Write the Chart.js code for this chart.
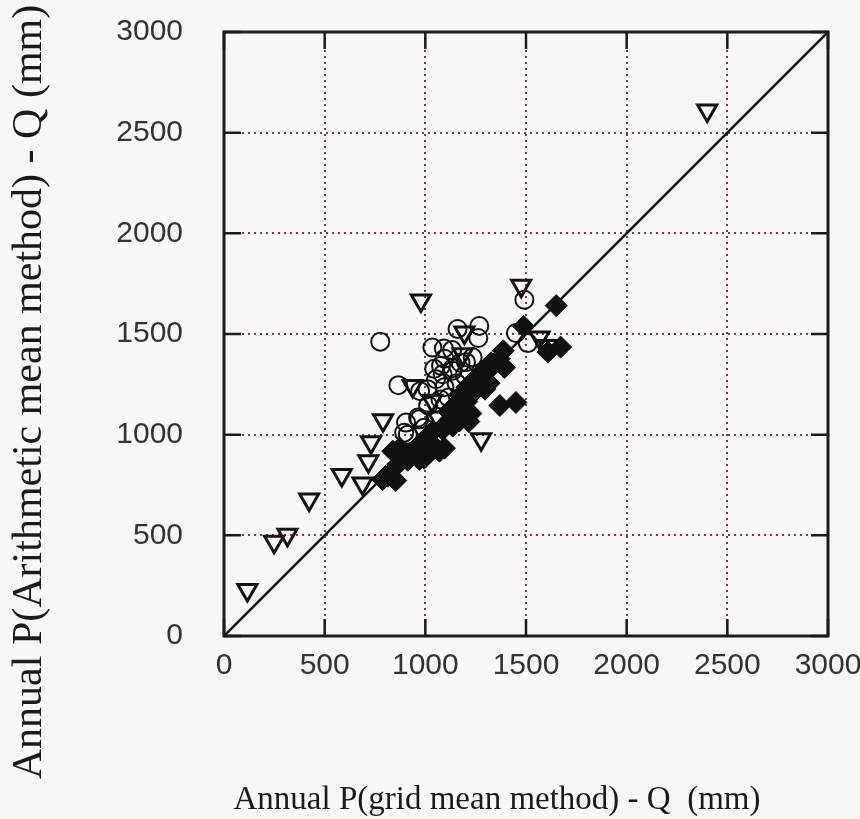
<!DOCTYPE html>
<html>
<head>
<meta charset="utf-8">
<script src="https://cdn.jsdelivr.net/npm/chart.js@4/dist/chart.umd.min.js"></script>
<style>
  html, body { margin: 0; padding: 0; background: #f7f7f6; }
  #wrap { width: 860px; height: 819px; }
</style>
</head>
<body>
<div id="wrap"><canvas id="chart" width="860" height="819"></canvas></div>
<script>
// axis ticks
const tickValues = [0, 500, 1000, 1500, 2000, 2500, 3000];
const xTitle = 'Annual P(grid mean method) - Q  (mm)';
const yTitle = 'Annual P(Arithmetic mean method) - Q (mm)';

// open triangles
const triX = [2400, 978, 1476, 1194, 1186, 1567, 1609, 937, 1033, 1061, 1277, 790, 730, 717, 688, 585, 423, 315, 249, 116];
const triY = [2610, 1666, 1740, 1508, 1400, 1483, 1441, 1242, 1168, 1085, 977, 1072, 962, 868, 757, 800, 678, 503, 468, 229];

// open circles
const circX = [776, 1492, 1160, 1268, 1263, 1450, 1509, 1035, 1092, 1133, 1235, 866, 1078, 1086, 1136, 1202, 1053, 1011, 970, 904, 895, 913, 994, 1014, 964, 1095, 974, 1175, 1095, 1196, 1155, 1115, 1075, 1044, 1135];
const circY = [1462, 1670, 1525, 1540, 1480, 1505, 1455, 1433, 1428, 1420, 1384, 1246, 1342, 1300, 1330, 1360, 1275, 1226, 1076, 1060, 1010, 1000, 1034, 1145, 1085, 1236, 1216, 1357, 1377, 1296, 1256, 1185, 1175, 1327, 1317];

// filled diamonds
const diaX = [1650, 1488, 1672, 1609, 1387, 1367, 1327, 1296, 1266, 1236, 1206, 1370, 1450, 1393, 1318, 1285, 1269, 1175, 1216, 1135, 1095, 1034, 994, 954, 994, 1095, 1034, 873, 863, 833, 802, 853, 913, 944, 1115, 1175, 1135, 1206, 1226, 1296, 1256, 1317, 838, 871, 812, 788, 970, 1020, 1070, 1003, 1086, 1136, 1169, 987];
const diaY = [1641, 1538, 1435, 1410, 1417, 1377, 1357, 1327, 1296, 1266, 1236, 1145, 1160, 1334, 1325, 1292, 1242, 1115, 1065, 1075, 1034, 1014, 974, 933, 883, 933, 954, 933, 853, 792, 792, 772, 873, 913, 1115, 1196, 1135, 1165, 1105, 1226, 1226, 1256, 918, 860, 794, 777, 877, 910, 918, 977, 1026, 1043, 1068, 935];

// 1:1 line
const lineX = [0, 3000];
const lineY = [0, 3000];

const pts = (xs, ys) => xs.map((x, i) => ({ x: x, y: ys[i] }));

// frame + short solid ticks inside the frame + axis titles
const framePlugin = {
  id: 'frame',
  afterDraw(chart) {
    const { ctx, chartArea: a, scales } = chart;
    const len = 17;
    ctx.save();
    ctx.strokeStyle = '#1a1a1a';
    ctx.lineWidth = 2.5;
    ctx.beginPath();
    tickValues.forEach(v => {
      const px = scales.x.getPixelForValue(v);
      const py = scales.y.getPixelForValue(v);
      ctx.moveTo(px, a.bottom); ctx.lineTo(px, a.bottom - len);
      ctx.moveTo(px, a.top); ctx.lineTo(px, a.top + len);
      ctx.moveTo(a.left, py); ctx.lineTo(a.left + len, py);
      ctx.moveTo(a.right, py); ctx.lineTo(a.right - len, py);
    });
    ctx.stroke();
    ctx.lineWidth = 3;
    ctx.strokeRect(a.left, a.top, a.right - a.left, a.bottom - a.top);

    ctx.fillStyle = '#1a1a1a';
    ctx.textAlign = 'center';
    ctx.textBaseline = 'middle';
    ctx.font = '33px "Liberation Serif", serif';
    ctx.fillText(xTitle, 497, 800);
    ctx.translate(30, 392);
    ctx.rotate(-Math.PI / 2);
    ctx.font = '42px "Liberation Serif", serif';
    ctx.fillText(yTitle, 0, 0);
    ctx.restore();
  }
};

const gridOpts = {
  color: 'rgba(95, 40, 80, 0.9)',
  lineWidth: 2,
  drawTicks: false
};

const fitX = s => { s.height = 60; s.paddingLeft = 0; s.paddingRight = 0; s.paddingTop = 0; s.paddingBottom = 0; };
const fitY = s => { s.width = 224; s.paddingLeft = 0; s.paddingRight = 0; s.paddingTop = 0; s.paddingBottom = 0; };
const tickFont = { family: 'Liberation Sans', size: 30 };

new Chart(document.getElementById('chart').getContext('2d'), {
  type: 'scatter',
  data: {
    datasets: [
      {
        label: 'diamonds',
        data: pts(diaX, diaY),
        pointStyle: 'rectRot',
        pointRadius: 11,
        backgroundColor: '#111',
        borderColor: '#111',
        borderWidth: 1,
        order: 1
      },
      {
        label: 'circles',
        data: pts(circX, circY),
        pointStyle: 'circle',
        pointRadius: 9,
        backgroundColor: 'rgba(0,0,0,0)',
        borderColor: '#111',
        borderWidth: 2,
        order: 3
      },
      {
        label: 'triangles',
        data: pts(triX, triY),
        pointStyle: 'triangle',
        rotation: 180,
        pointRadius: 11,
        backgroundColor: 'rgba(0,0,0,0)',
        borderColor: '#111',
        borderWidth: 3,
        order: 2
      },
      {
        type: 'line',
        label: '1:1',
        data: pts(lineX, lineY),
        borderColor: '#111',
        borderWidth: 2.5,
        pointRadius: 0,
        fill: false,
        order: 4
      }
    ]
  },
  options: {
    responsive: false,
    animation: false,
    layout: { padding: { left: 0, top: 32, right: 32, bottom: 123 } },
    plugins: { legend: { display: false }, tooltip: { enabled: false } },
    scales: {
      x: {
        type: 'linear',
        min: 0, max: 3000,
        afterFit: fitX,
        afterBuildTicks: s => { s.ticks = tickValues.map(v => ({ value: v })); },
        grid: gridOpts,
        border: { display: false, dash: [2, 4] },
        ticks: { padding: 12, color: '#333', font: tickFont, callback: v => String(v) }
      },
      y: {
        type: 'linear',
        min: 0, max: 3000,
        afterFit: fitY,
        afterBuildTicks: s => { s.ticks = tickValues.map(v => ({ value: v })); },
        grid: gridOpts,
        border: { display: false, dash: [2, 4] },
        ticks: { padding: 41, color: '#333', font: tickFont, callback: v => String(v) }
      }
    }
  },
  plugins: [framePlugin]
});
</script>
</body>
</html>
